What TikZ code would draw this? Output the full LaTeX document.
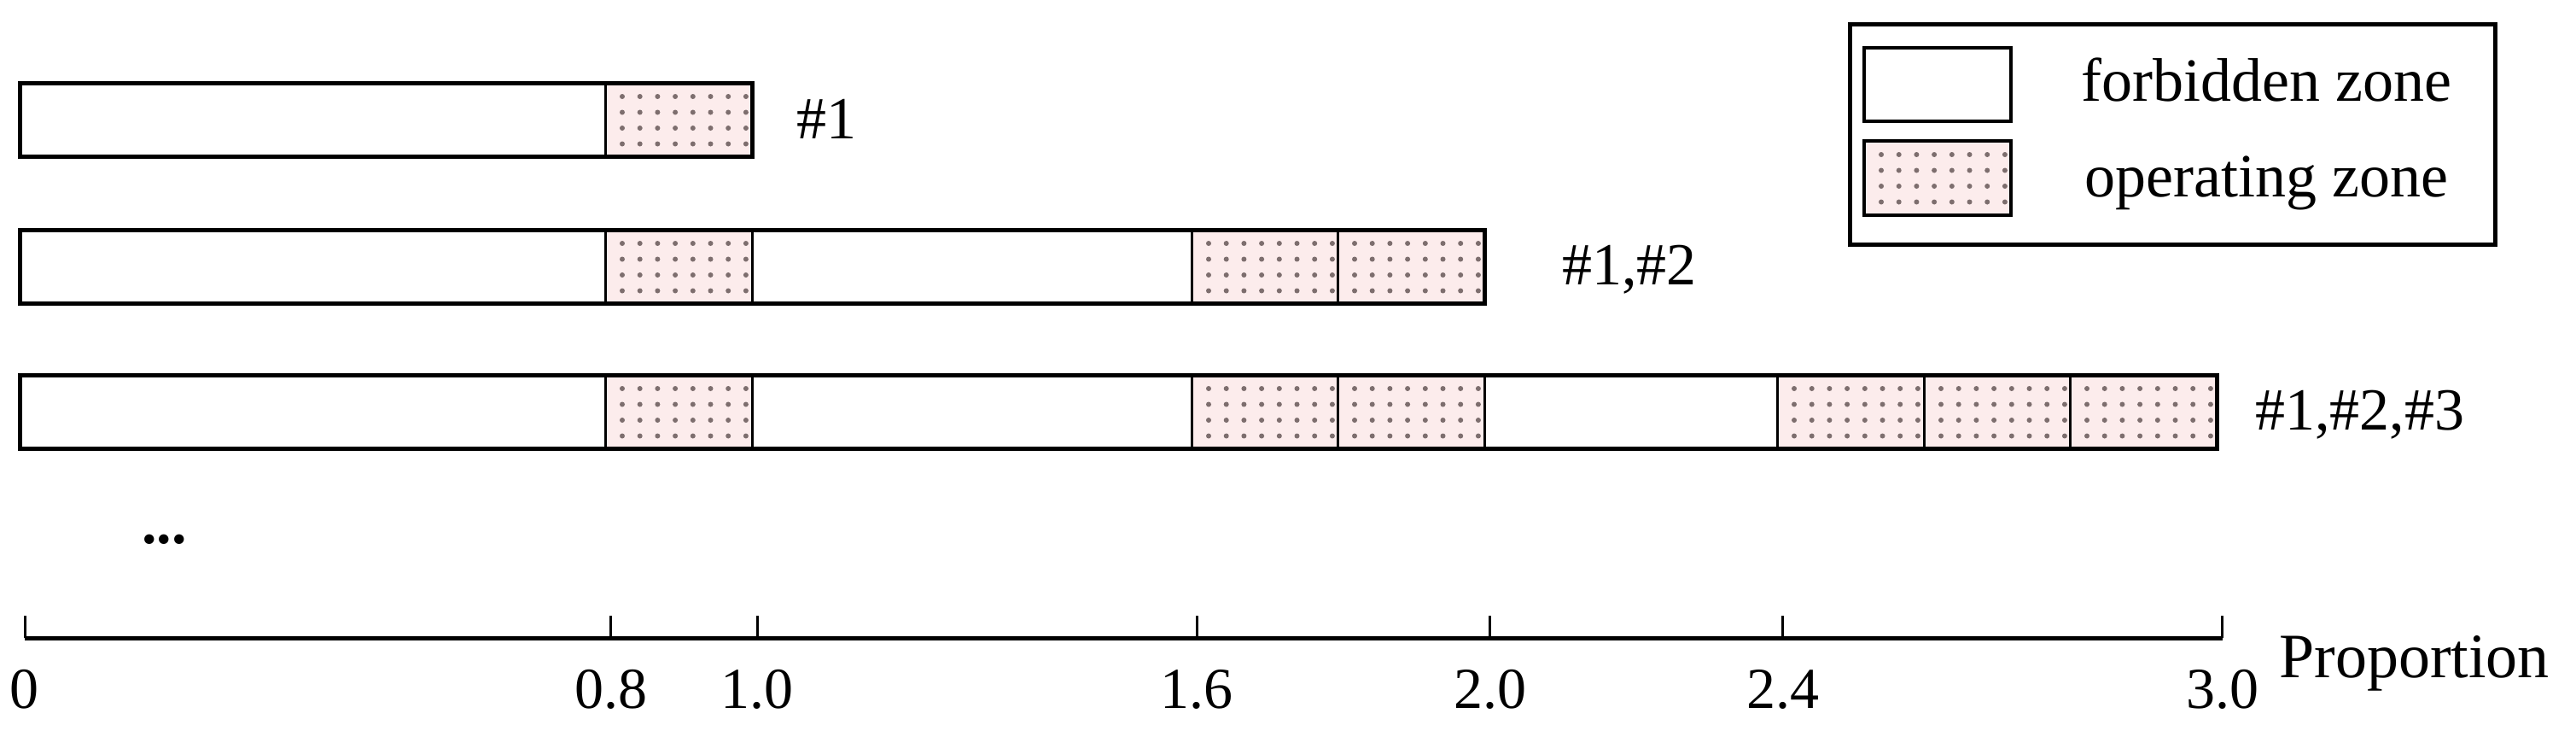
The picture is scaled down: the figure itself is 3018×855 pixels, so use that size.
\documentclass[tikz,border=0pt]{standalone}
\usepackage{fontspec}
\setmainfont{Liberation Serif}
\definecolor{oppink}{RGB}{252,236,236}
\definecolor{opdotc}{RGB}{125,110,110}
\tikzset{
  seg/.style={draw=black,line width=3pt},
  barframe/.style={draw=black,line width=5pt},
  opfill/.style={fill=oppink},
  opdot/.style={fill=opdotc},
  lbl/.style={inner sep=0pt,anchor=base west,font=\fontsize{70}{84}\selectfont},
  axlbl/.style={inner sep=0pt,anchor=base,font=\fontsize{68}{80}\selectfont},
  axline/.style={line width=5pt},
  tickline/.style={line width=3pt},
}
\newcommand\OpZone[3]{%
  \fill[opfill] (#1,#3) rectangle (#2,#3+86);
  \foreach \i in {0,...,7}{\foreach \j in {0,...,3}{%
    \fill[opdot] (#1+20+20.7*\i,#3+16+18.5*\j) circle[radius=3pt];}}
  \draw[seg] (#1,#3) rectangle (#2,#3+86);
}
\newcommand\FbZone[3]{%
  \draw[seg,fill=white] (#1,#3) rectangle (#2,#3+86);
}
\begin{document}
\begin{tikzpicture}[x=1pt,y=-1pt]
\useasboundingbox (0,0) rectangle (3018,855);
% row 1
\FbZone{23}{709}{97}
\OpZone{709}{881}{97}
\draw[barframe] (23,97) rectangle (881,183);
\node[lbl] (l1) at (933,162) {\#1};
% row 2
\FbZone{23}{709}{269}
\OpZone{709}{881}{269}
\FbZone{881}{1396}{269}
\OpZone{1396}{1567}{269}
\OpZone{1567}{1739}{269}
\draw[barframe] (23,269) rectangle (1739,355);
\node[lbl] (l2) at (1830,333) {\#1,\#2};
% row 3
\FbZone{23}{709}{439}
\OpZone{709}{881}{439}
\FbZone{881}{1396}{439}
\OpZone{1396}{1567}{439}
\OpZone{1567}{1739}{439}
\FbZone{1739}{2082}{439}
\OpZone{2082}{2254}{439}
\OpZone{2254}{2425}{439}
\OpZone{2425}{2597}{439}
\draw[barframe] (23,439) rectangle (2597,525);
\node[lbl] (l3) at (2642,503) {\#1,\#2,\#3};
% dots
\node[lbl,font=\bfseries\fontsize{70}{84}\selectfont] (dots) at (166,636) {...};
% axis
\coordinate (a0) at (29,747);
\coordinate (a3) at (2604,747);
\draw[axline] (a0) -- (a3);
\foreach \v/\t in {0/0,0.8/0.8,1.0/1.0,1.6/1.6,2.0/2.0,2.4/2.4,3.0/3.0}{%
  \draw[tickline] (29+858.3*\v,747) -- (29+858.3*\v,721);
  \node[axlbl] (t\t) at (29+858.3*\v,829) {\t};
}
\node[lbl,font=\fontsize{74}{88}\selectfont] (prop) at (2670,793) {Proportion};
% legend
\draw[line width=5pt,fill=white] (2167,28) rectangle (2923,286);
\draw[line width=4.5pt,fill=white] (2184,56) rectangle (2356,142);
\fill[opfill] (2184,165) rectangle (2356,252);
\foreach \i in {0,...,7}{\foreach \j in {0,...,3}{%
  \fill[opdot] (2184+20+20.7*\i,165+16+18.5*\j) circle[radius=3pt];}}
\draw[line width=4.5pt] (2184,165) rectangle (2356,252);
\node[lbl,font=\fontsize{72}{86}\selectfont] (lf) at (2438,118) {forbidden zone};
\node[lbl,font=\fontsize{72}{86}\selectfont] (lo) at (2442,230) {operating zone};
\end{tikzpicture}
\end{document}
